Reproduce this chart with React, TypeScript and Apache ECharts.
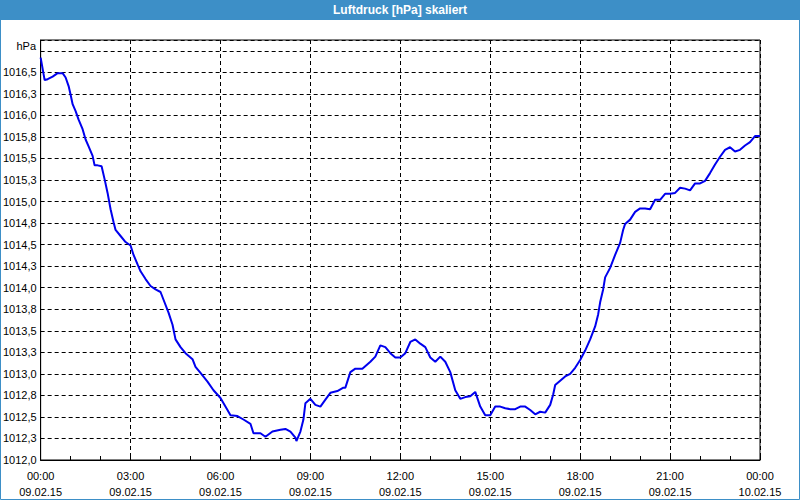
import React, { useEffect, useRef } from "react";
import * as echarts from "echarts";

// minutes since 09.02.15 00:00
const times = [
  0, 8, 14, 24, 34, 44, 50, 56, 60, 64, 70, 76, 84, 90, 96, 104, 108, 114, 122, 128,
  134, 140, 146, 150, 160, 170, 180, 186, 194, 200, 210, 220, 230, 240, 246, 256, 264, 270, 280, 290,
  304, 310, 320, 334, 346, 360, 374, 380, 394, 406, 420, 426, 440, 450, 464, 480, 490, 500, 510, 512,
  520, 526, 530, 540, 550, 560, 570, 580, 594, 606, 610, 620, 630, 644, 660, 670, 680, 690, 700, 710,
  720, 730, 740, 750, 760, 770, 780, 790, 800, 810, 820, 830, 840, 850, 860, 870, 880, 890, 900, 910,
  920, 930, 940, 950, 960, 970, 980, 990, 1000, 1010, 1020, 1026, 1030, 1040, 1050, 1060, 1070, 1080, 1090, 1100,
  1110, 1116, 1120, 1126, 1130, 1140, 1150, 1160, 1166, 1170, 1180, 1190, 1200, 1210, 1220, 1230, 1240, 1250, 1260, 1270,
  1280, 1290, 1300, 1310, 1320, 1330, 1340, 1350, 1360, 1370, 1380, 1390, 1400, 1410, 1420, 1430, 1440,
];

const pressure = [
  1016.67, 1016.41, 1016.42, 1016.45, 1016.49, 1016.49, 1016.44, 1016.34, 1016.24, 1016.13, 1016.05, 1015.95, 1015.84, 1015.72, 1015.64, 1015.53, 1015.42, 1015.42, 1015.41, 1015.26,
  1015.10, 1014.91, 1014.76, 1014.67, 1014.60, 1014.53, 1014.49, 1014.38, 1014.27, 1014.19, 1014.10, 1014.02, 1013.98, 1013.95, 1013.86, 1013.71, 1013.57, 1013.40, 1013.31, 1013.24,
  1013.17, 1013.08, 1013.01, 1012.91, 1012.81, 1012.72, 1012.58, 1012.52, 1012.51, 1012.47, 1012.42, 1012.31, 1012.31, 1012.27, 1012.33, 1012.35, 1012.36, 1012.33, 1012.26, 1012.22,
  1012.33, 1012.47, 1012.66, 1012.71, 1012.64, 1012.62, 1012.70, 1012.78, 1012.80, 1012.84, 1012.84, 1013.02, 1013.06, 1013.06, 1013.14, 1013.20, 1013.33, 1013.31, 1013.24, 1013.19,
  1013.19, 1013.24, 1013.37, 1013.40, 1013.35, 1013.31, 1013.19, 1013.14, 1013.20, 1013.14, 1013.02, 1012.81, 1012.71, 1012.73, 1012.74, 1012.79, 1012.62, 1012.52, 1012.52, 1012.62,
  1012.62, 1012.60, 1012.59, 1012.59, 1012.62, 1012.62, 1012.58, 1012.53, 1012.56, 1012.55, 1012.64, 1012.76, 1012.87, 1012.92, 1012.97, 1013.00, 1013.07, 1013.16, 1013.27, 1013.40,
  1013.55, 1013.69, 1013.83, 1013.98, 1014.12, 1014.23, 1014.38, 1014.52, 1014.67, 1014.74, 1014.79, 1014.88, 1014.92, 1014.92, 1014.91, 1015.02, 1015.02, 1015.09, 1015.09, 1015.10,
  1015.16, 1015.15, 1015.13, 1015.21, 1015.21, 1015.24, 1015.33, 1015.43, 1015.52, 1015.60, 1015.63, 1015.58, 1015.60, 1015.65, 1015.69, 1015.76, 1015.76,
];

const titleText = "Luftdruck [hPa] skaliert";
const unitText = "hPa";
const dateLabels = ["09.02.15", "10.02.15"];

const FONT = "Liberation Sans";

export default function App() {
  const ref = useRef<HTMLDivElement>(null);

  useEffect(() => {
    if (!ref.current) return;
    const chart = echarts.init(ref.current, null, { renderer: "svg" });
    const data = times.map((t, i) => [t, pressure[i]]);
    const pad = (n: number) => (n < 10 ? "0" + n : "" + n);

    chart.setOption({
      animation: false,
      backgroundColor: "#ffffff",
      graphic: [
        {
          type: "rect",
          shape: { x: 0.5, y: 0.5, width: 799, height: 499 },
          style: { fill: "none", stroke: "#3d8fc7", lineWidth: 1 },
          silent: true,
        },
        {
          type: "rect",
          shape: { x: 0, y: 0, width: 800, height: 20 },
          style: { fill: "#3d8fc7" },
          silent: true,
        },
        {
          type: "text",
          x: 400,
          y: 10,
          style: {
            text: titleText,
            fill: "#ffffff",
            font: `bold 12px "${FONT}"`,
            align: "center",
            verticalAlign: "middle",
          },
          silent: true,
        },
        {
          type: "text",
          x: 36,
          y: 46,
          style: {
            text: unitText,
            fill: "#000000",
            font: `11px "${FONT}"`,
            align: "right",
            verticalAlign: "middle",
          },
          silent: true,
        },
      ],
      grid: {
        left: 40,
        right: 40,
        top: 40,
        bottom: 40,
        show: true,
        borderColor: "#000000",
        borderWidth: 1,
        containLabel: false,
      },
      xAxis: {
        type: "value",
        min: 0,
        max: 1440,
        interval: 180,
        axisLine: { show: true, lineStyle: { color: "#000000", width: 1 } },
        axisTick: { show: true, inside: true, length: 4, lineStyle: { color: "#000000" } },
        minorTick: { show: true, splitNumber: 3, length: 4, lineStyle: { color: "#000000" } },
        splitLine: { show: true, lineStyle: { color: "#000000", type: [4, 3], width: 1 } },
        axisLabel: {
          color: "#000000",
          fontFamily: FONT,
          fontSize: 11,
          lineHeight: 16,
          margin: 8,
          showMinLabel: true,
          showMaxLabel: true,
          formatter: (v: number) => {
            const day = Math.floor(v / 1440);
            const m = v % 1440;
            return pad(Math.floor(m / 60)) + ":" + pad(m % 60) + "\n" + dateLabels[day];
          },
        },
      },
      yAxis: {
        type: "value",
        min: 1012,
        max: 1016.875,
        interval: 0.25,
        axisLine: { show: true, lineStyle: { color: "#000000", width: 1 } },
        axisTick: { show: false },
        splitLine: { show: true, lineStyle: { color: "#000000", type: [4, 3], width: 1 } },
        axisLabel: {
          color: "#000000",
          fontFamily: FONT,
          fontSize: 11,
          margin: 4,
          showMaxLabel: false,
          formatter: (v: number) => (v > 1016.6 ? "" : v.toFixed(1).replace(".", ",")),
        },
      },
      series: [
        {
          type: "line",
          data,
          showSymbol: false,
          symbol: "none",
          lineStyle: { color: "#0000ee", width: 2 },
          itemStyle: { color: "#0000ee" },
          clip: true,
        },
      ],
    });

    return () => chart.dispose();
  }, []);

  return (
    <div
      ref={ref}
      style={{ position: "fixed", left: 0, top: 0, width: 800, height: 500 }}
    />
  );
}
